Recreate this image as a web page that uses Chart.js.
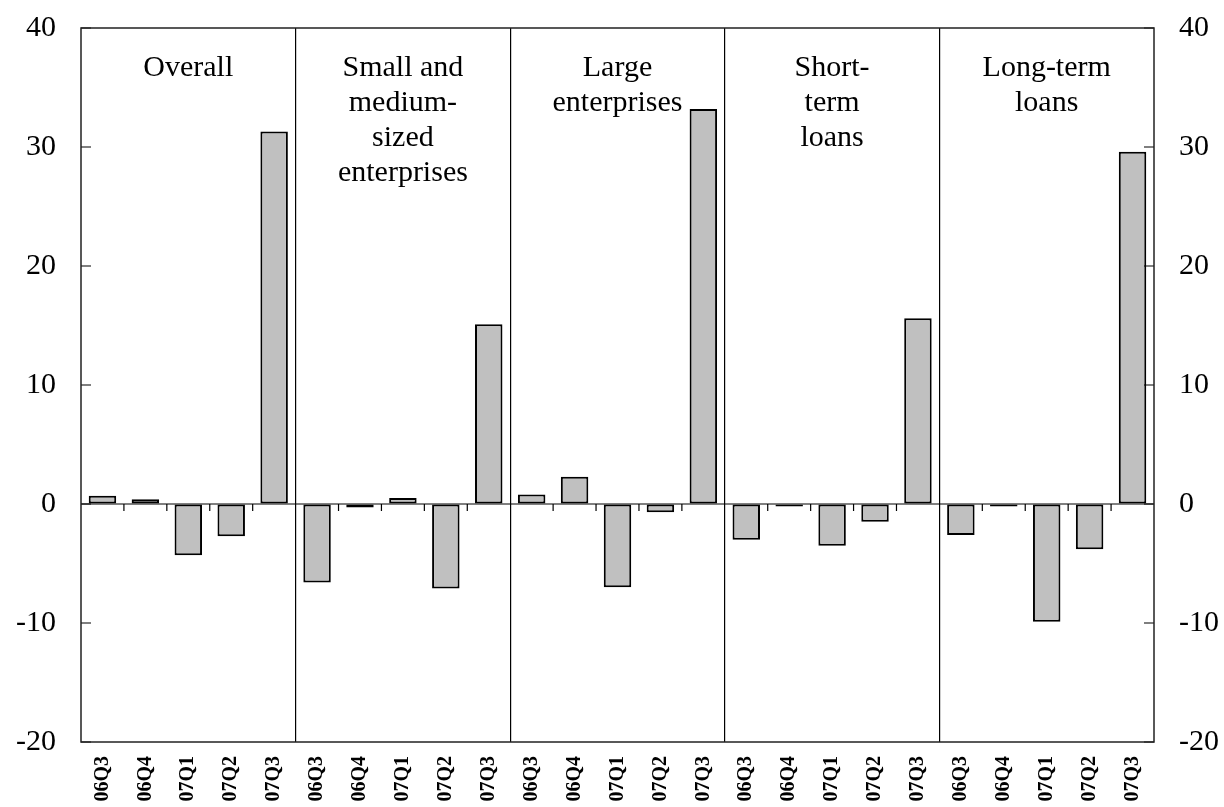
<!DOCTYPE html>
<html>
<head>
<meta charset="utf-8">
<script src="https://cdn.jsdelivr.net/npm/chart.js@4/dist/chart.umd.min.js"></script>
<style>
  html, body { margin: 0; padding: 0; background: #fff; }
  canvas { display: block; }
</style>
</head>
<body>
<canvas id="chart" width="1224" height="807"></canvas>
<script>
// quarters shown under every group
var quarters = ['06Q3', '06Q4', '07Q1', '07Q2', '07Q3'];

// group headings, one entry per line
var groupNames = [
  ['Overall'],
  ['Small and', 'medium-', 'sized', 'enterprises'],
  ['Large', 'enterprises'],
  ['Short-', 'term', 'loans'],
  ['Long-term', 'loans']
];

// values per group, in quarter order
var overall   = [0.7, 0.4, -4.3, -2.7, 31.3];
var sme       = [-6.6, -0.3, 0.5, -7.1, 15.1];
var large     = [0.8, 2.3, -7.0, -0.7, 33.2];
var shortTerm = [-3.0, -0.2, -3.5, -1.5, 15.6];
var longTerm  = [-2.6, -0.2, -9.9, -3.8, 29.6];

var yTicks = [-20, -10, 0, 10, 20, 30, 40];

var labels = [];
groupNames.forEach(function() { labels = labels.concat(quarters); });
var values = [].concat(overall, sme, large, shortTerm, longTerm);

var serif = '"Liberation Serif", "Times New Roman", serif';

var framePlugin = {
  id: 'frame',
  afterDatasetsDraw: function(chart) {
    var ctx = chart.ctx;
    var a = chart.chartArea;
    var x = chart.scales.x;
    var y = chart.scales.y;
    var zero = y.getPixelForValue(0);
    ctx.save();
    ctx.strokeStyle = '#000';
    ctx.lineWidth = 1.2;

    // zero line
    ctx.beginPath();
    ctx.moveTo(a.left, zero);
    ctx.lineTo(a.right, zero);
    ctx.stroke();

    // small ticks between the bars, under the zero line
    var step = x.getPixelForValue(1) - x.getPixelForValue(0);
    for (var i = 1; i < labels.length; i++) {
      if (i % quarters.length === 0) continue;
      var px = x.getPixelForValue(i) - step / 2;
      ctx.beginPath();
      ctx.moveTo(px, zero);
      ctx.lineTo(px, zero + 7);
      ctx.stroke();
    }

    // inside ticks on both value axes
    yTicks.forEach(function(v) {
      var py = y.getPixelForValue(v);
      ctx.beginPath();
      ctx.moveTo(a.left, py);
      ctx.lineTo(a.left + 10, py);
      ctx.moveTo(a.right, py);
      ctx.lineTo(a.right - 10, py);
      ctx.stroke();
    });

    // frame
    ctx.lineWidth = 1.5;
    ctx.strokeStyle = '#222';
    ctx.strokeRect(a.left, a.top, a.right - a.left, a.bottom - a.top);

    // group headings
    ctx.fillStyle = '#000';
    ctx.font = '30px ' + serif;
    ctx.textAlign = 'center';
    ctx.textBaseline = 'middle';
    groupNames.forEach(function(lines, g) {
      var cx = x.getPixelForValue(g * quarters.length + 2);
      lines.forEach(function(t, k) {
        ctx.fillText(t, cx, a.top + 40 + k * 35);
      });
    });
    ctx.restore();
  }
};

var axisFont = { family: serif, size: 30 };

function fitY(w) {
  return function(s) {
    s.width = w;
    s.paddingTop = 0;
    s.paddingBottom = 0;
  };
}

new Chart(document.getElementById('chart').getContext('2d'), {
  type: 'bar',
  data: {
    labels: labels,
    datasets: [{
      data: values,
      backgroundColor: '#c0c0c0',
      borderColor: '#000',
      borderWidth: 2,
      borderSkipped: false,
      barPercentage: 0.64,
      categoryPercentage: 1.0
    }]
  },
  options: {
    responsive: false,
    animation: false,
    layout: { padding: { top: 28, right: 0, left: 0, bottom: 0 } },
    plugins: { legend: { display: false }, tooltip: { enabled: false } },
    scales: {
      x: {
        offset: true,
        border: { display: false },
        grid: {
          offset: true,
          drawTicks: false,
          lineWidth: 1.2,
          color: function(c) {
            return (c.index > 0 && c.index % quarters.length === 0) ? '#000' : 'rgba(0,0,0,0)';
          }
        },
        ticks: {
          color: '#000',
          font: { family: serif, size: 20, weight: 'bold' },
          minRotation: 90,
          maxRotation: 90,
          padding: 14,
          autoSkip: false
        },
        afterFit: function(s) {
          s.height = 65;
          s.paddingLeft = 0;
          s.paddingRight = 0;
        }
      },
      y: {
        position: 'left',
        min: -20,
        max: 40,
        border: { display: false },
        grid: { drawOnChartArea: false, drawTicks: false },
        ticks: { stepSize: 10, color: '#000', font: axisFont, padding: 25 },
        afterFit: fitY(81)
      },
      y2: {
        position: 'right',
        min: -20,
        max: 40,
        border: { display: false },
        grid: { drawOnChartArea: false, drawTicks: false },
        ticks: { stepSize: 10, color: '#000', font: axisFont, padding: 25 },
        afterFit: fitY(70)
      }
    }
  },
  plugins: [framePlugin]
});
</script>
</body>
</html>
